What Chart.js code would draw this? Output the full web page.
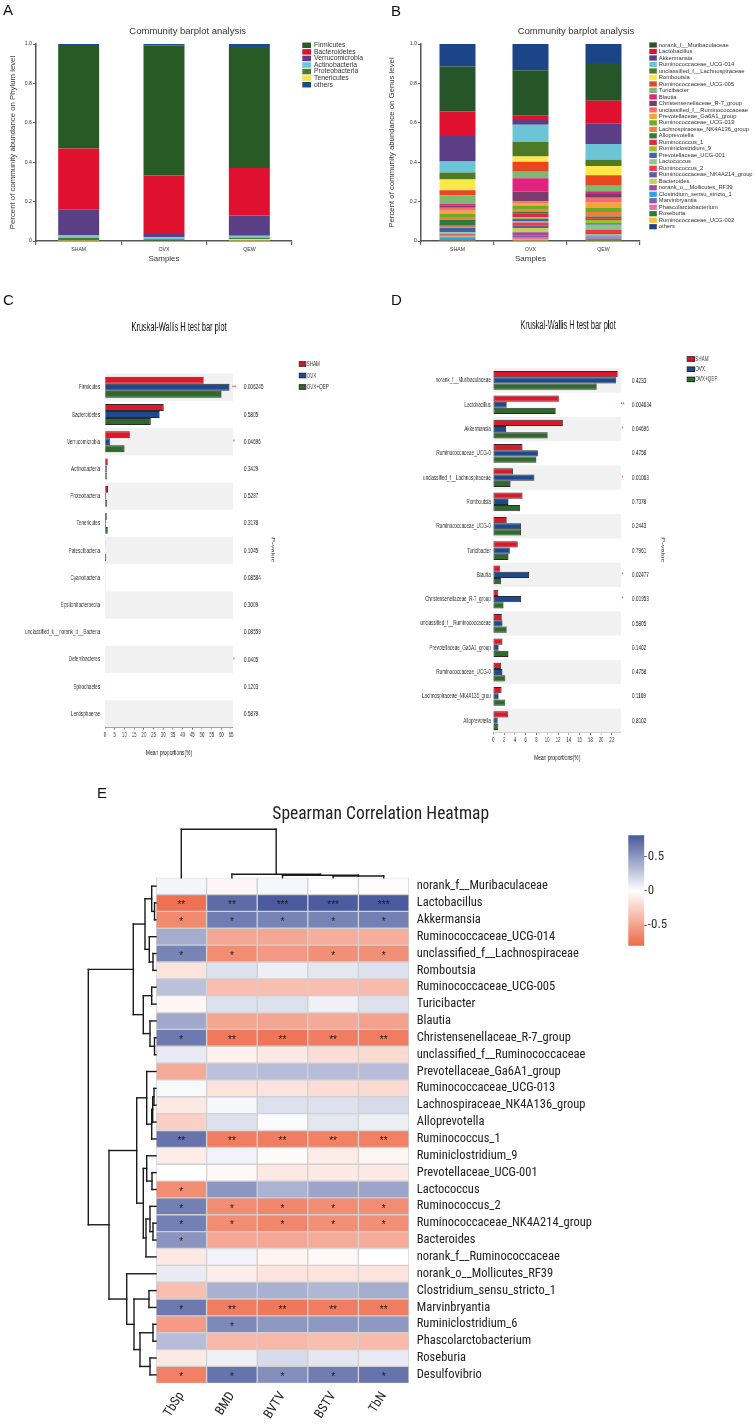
<!DOCTYPE html>
<html>
<head>
<meta charset="utf-8">
<script src="https://cdn.jsdelivr.net/npm/chart.js@4.4.1/dist/chart.umd.min.js"></script>
<style>
  body { margin: 0; background: #fff; }
  #page { position: relative; width: 755px; height: 1428px; overflow: hidden; background: #fff; }
  canvas { position: absolute; }
  .tag { position: absolute; font: 15px "Liberation Sans", Arial, sans-serif; color: #111; line-height: 15px; }
  .squeeze { transform: scaleX(0.62); transform-origin: 0 0; }
</style>
</head>
<body>
<div id="page">
  <canvas id="phylumChart" width="380" height="290" style="left:0;top:0"></canvas>
  <canvas id="genusChart" width="375" height="290" style="left:380px;top:0"></canvas>
  <canvas id="kwPhylum" class="squeeze" width="613" height="480" style="left:0;top:290px"></canvas>
  <canvas id="kwGenus" class="squeeze" width="605" height="480" style="left:380px;top:290px"></canvas>
  <canvas id="heatChart" width="755" height="668" style="left:0;top:760px"></canvas>
  <canvas id="colorBar" width="70" height="130" style="left:620px;top:825px"></canvas>
  <div class="tag" style="left:3px;top:2px">A</div>
  <div class="tag" style="left:391px;top:3px">B</div>
  <div class="tag" style="left:3px;top:292px">C</div>
  <div class="tag" style="left:391px;top:292px">D</div>
  <div class="tag" style="left:97px;top:785px">E</div>
</div>
<script>
const family = '"Liberation Sans", Arial, sans-serif';
const narrow = '"Liberation Sans Narrow", "Arial Narrow", "Roboto Condensed", sans-serif';
const SQ = 0.62; // horizontal squeeze of panels C and D
Chart.defaults.font.family = family;
Chart.defaults.color = '#333';

// ---- A: phylum community barplot
const samples = ['SHAM', 'OVX', 'QEW'];
const phylumNames = ['Firmicutes', 'Bacteroidetes', 'Verrucomicrobia', 'Actinobacteria', 'Proteobacteria', 'Tenericutes', 'others'];
const phylumColors = ['#285a25', '#e0112f', '#5a3e86', '#6fc6d6', '#4d7b29', '#f6e24c', '#1b4b8c'];
const phylumSham = [0.526, 0.310, 0.129, 0.013, 0.012, 0.005, 0.005];
const phylumOvx = [0.660, 0.292, 0.022, 0.010, 0.006, 0.003, 0.007];
const phylumQew = [0.614, 0.242, 0.102, 0.010, 0.007, 0.010, 0.015];

// ---- B: genus community barplot
const genusNames = ['norank_f__Muribaculaceae', 'Lactobacillus', 'Akkermansia', 'Ruminococcaceae_UCG-014',
  'unclassified_f__Lachnospiraceae', 'Romboutsia', 'Ruminococcaceae_UCG-005', 'Turicibacter', 'Blautia',
  'Christensenellaceae_R-7_group', 'unclassified_f__Ruminococcaceae', 'Prevotellaceae_Ga6A1_group',
  'Ruminococcaceae_UCG-013', 'Lachnospiraceae_NK4A136_group', 'Alloprevotella', 'Ruminococcus_1',
  'Ruminiclostridium_9', 'Prevotellaceae_UCG-001', 'Lactococcus', 'Ruminococcus_2',
  'Ruminococcaceae_NK4A214_group', 'Bacteroides', 'norank_o__Mollicutes_RF39', 'Clostridium_sensu_stricto_1',
  'Marvinbryantia', 'Phascolarctobacterium', 'Roseburia', 'Ruminococcaceae_UCG-002', 'others'];
const genusColors = ['#27552a', '#e0102f', '#5b3e86', '#6cc5d6', '#4e7a26', '#fde84a', '#e8461f', '#7cba72',
  '#e0237e', '#7b3c6c', '#f2706a', '#f9a531', '#6aab2a', '#f47c3c', '#2e7c3a', '#e3283e', '#9bc02c', '#3f65a8',
  '#8cc68a', '#ed3a48', '#5a5ea5', '#c3cf55', '#a5479a', '#2ba4e0', '#7e5fa8', '#ec6fa0', '#2f7a34', '#fbc02d',
  '#1b4586'];
const genusSham = [0.229, 0.124, 0.129, 0.056, 0.036, 0.054, 0.027, 0.042, 0.010, 0.010, 0.015, 0.015, 0.017,
  0.014, 0.029, 0.007, 0.005, 0.022, 0.008, 0.005, 0.005, 0.005, 0.003, 0.014, 0.002, 0.001, 0.001, 0.001, 0.114];
const genusOvx = [0.229, 0.024, 0.024, 0.086, 0.075, 0.027, 0.051, 0.032, 0.068, 0.049, 0.012, 0.012, 0.020,
  0.010, 0.007, 0.020, 0.008, 0.014, 0.005, 0.014, 0.014, 0.022, 0.014, 0.005, 0.008, 0.007, 0.003, 0.007, 0.134];
const genusQew = [0.192, 0.117, 0.102, 0.080, 0.032, 0.047, 0.054, 0.027, 0.014, 0.020, 0.025, 0.027, 0.020,
  0.022, 0.010, 0.008, 0.017, 0.007, 0.024, 0.019, 0.007, 0.005, 0.005, 0.007, 0.005, 0.002, 0.008, 0.001, 0.097];

// ---- C / D: Kruskal-Wallis
const groups = ['SHAM', 'OVX', 'OVX+QEP'];
const groupColors = ['#e0162b', '#1d4a8f', '#2e6a2c'];
const kwPhylumNames = ['Firmicutes', 'Bacteroidetes', 'Verrucomicrobia', 'Actinobacteria', 'Proteobacteria',
  'Tenericutes', 'Patescibacteria', 'Cyanobacteria', 'Epsilonbacteraeota', 'unclassified_k__norank_d__Bacteria',
  'Deferribacteres', 'Spirochaetes', 'Lentisphaerae'];
const kwPhylumSham = [50.9, 30.2, 12.7, 1.4, 1.5, 0.8, 0.3, 0.3, 0.2, 0.15, 0.15, 0.1, 0.1];
const kwPhylumOvx = [64.1, 28.2, 2.6, 1.0, 0.5, 0.5, 0.2, 0.3, 0.2, 0.15, 0.1, 0.1, 0.1];
const kwPhylumQep = [60.1, 23.5, 10.0, 1.0, 0.9, 1.4, 0.6, 0.3, 0.2, 0.15, 0.15, 0.1, 0.1];
const kwPhylumP = [0.006245, 0.5805, 0.04696, 0.3429, 0.5287, 0.3178, 0.1045, 0.08584, 0.3009, 0.08559, 0.0405, 0.1203, 0.5879];

const kwGenusNames = ['norank_f__Muribaculaceae', 'Lactobacillus', 'Akkermansia', 'Ruminococcaceae_UCG-0',
  'unclassified_f__Lachnospiraceae', 'Romboutsia', 'Ruminococcaceae_UCG-0', 'Turicibacter', 'Blautia',
  'Christensenellaceae_R-7_group', 'unclassified_f__Ruminococcaceae', 'Prevotellaceae_Ga6A1_group',
  'Ruminococcaceae_UCG-0', 'Lachnospiraceae_NK4A136_grou', 'Alloprevotella'];
const kwGenusSham = [23.1, 12.2, 12.9, 5.4, 3.6, 5.4, 2.5, 4.5, 1.2, 0.9, 1.6, 1.7, 1.4, 1.5, 2.7];
const kwGenusOvx = [22.8, 2.5, 2.35, 8.3, 7.6, 2.8, 5.1, 3.1, 6.6, 5.1, 1.7, 1.0, 1.7, 1.0, 0.8];
const kwGenusQep = [19.2, 11.6, 10.1, 8.0, 3.2, 5.0, 5.1, 2.8, 1.4, 1.9, 2.5, 2.8, 2.2, 2.2, 0.9];
const kwGenusP = [0.4233, 0.004634, 0.04696, 0.4758, 0.01063, 0.7378, 0.2443, 0.7961, 0.02477, 0.01953, 0.5805, 0.1402, 0.4758, 0.1169, 0.8102];

// ---- E: Spearman heatmap
const traits = ['TbSp', 'BMD', 'BVTV', 'BSTV', 'TbN'];
const taxa = ['norank_f__Muribaculaceae', 'Lactobacillus', 'Akkermansia', 'Ruminococcaceae_UCG-014',
  'unclassified_f__Lachnospiraceae', 'Romboutsia', 'Ruminococcaceae_UCG-005', 'Turicibacter', 'Blautia',
  'Christensenellaceae_R-7_group', 'unclassified_f__Ruminococcaceae', 'Prevotellaceae_Ga6A1_group',
  'Ruminococcaceae_UCG-013', 'Lachnospiraceae_NK4A136_group', 'Alloprevotella', 'Ruminococcus_1',
  'Ruminiclostridium_9', 'Prevotellaceae_UCG-001', 'Lactococcus', 'Ruminococcus_2',
  'Ruminococcaceae_NK4A214_group', 'Bacteroides', 'norank_f__Ruminococcaceae', 'norank_o__Mollicutes_RF39',
  'Clostridium_sensu_stricto_1', 'Marvinbryantia', 'Ruminiclostridium_6', 'Phascolarctobacterium',
  'Roseburia', 'Desulfovibrio'];
const corr = [
  [0.05, -0.05, 0.04, 0.0, -0.02],
  [-0.76, 0.72, 0.8, 0.79, 0.8],
  [-0.63, 0.63, 0.6, 0.6, 0.62],
  [0.4, -0.47, -0.47, -0.44, -0.44],
  [0.6, -0.62, -0.55, -0.6, -0.6],
  [-0.15, 0.15, 0.08, 0.12, 0.15],
  [0.3, -0.35, -0.35, -0.35, -0.37],
  [-0.05, 0.15, 0.15, 0.07, 0.15],
  [0.42, -0.48, -0.48, -0.46, -0.5],
  [0.65, -0.72, -0.74, -0.7, -0.7],
  [0.1, -0.08, -0.12, -0.18, -0.2],
  [-0.45, 0.3, 0.32, 0.32, 0.32],
  [0.03, -0.15, -0.15, -0.18, -0.2],
  [-0.12, 0.04, 0.15, 0.15, 0.18],
  [-0.25, 0.15, 0.02, 0.12, 0.08],
  [0.68, -0.7, -0.7, -0.68, -0.68],
  [-0.1, 0.06, -0.02, -0.1, -0.05],
  [0.0, -0.04, -0.12, -0.12, -0.12],
  [-0.62, 0.51, 0.37, 0.44, 0.44],
  [0.62, -0.62, -0.64, -0.62, -0.62],
  [0.62, -0.62, -0.64, -0.6, -0.6],
  [0.52, -0.47, -0.47, -0.45, -0.45],
  [-0.12, 0.06, -0.06, -0.03, 0.0],
  [0.1, -0.1, -0.15, -0.15, -0.15],
  [-0.35, 0.38, 0.38, 0.35, 0.4],
  [0.65, -0.7, -0.73, -0.7, -0.7],
  [-0.54, 0.57, 0.5, 0.5, 0.5],
  [0.32, -0.38, -0.38, -0.35, -0.37],
  [-0.12, 0.07, 0.18, 0.12, 0.1],
  [-0.68, 0.68, 0.55, 0.63, 0.68]
];
const corrStars = [
  ['', '', '', '', ''], ['**', '**', '***', '***', '***'], ['*', '*', '*', '*', '*'], ['', '', '', '', ''],
  ['*', '*', '', '*', '*'], ['', '', '', '', ''], ['', '', '', '', ''], ['', '', '', '', ''], ['', '', '', '', ''],
  ['*', '**', '**', '**', '**'], ['', '', '', '', ''], ['', '', '', '', ''], ['', '', '', '', ''], ['', '', '', '', ''],
  ['', '', '', '', ''], ['**', '**', '**', '**', '**'], ['', '', '', '', ''], ['', '', '', '', ''],
  ['*', '', '', '', ''], ['*', '*', '*', '*', '*'], ['*', '*', '*', '*', '*'], ['*', '', '', '', ''],
  ['', '', '', '', ''], ['', '', '', '', ''], ['', '', '', '', ''], ['*', '**', '**', '**', '**'],
  ['', '*', '', '', ''], ['', '', '', '', ''], ['', '', '', '', ''], ['*', '*', '*', '*', '*']
];
// hclust-style merges: negative = leaf (1-based), positive = earlier merge, then height
const rowMerges = [
  [-2, -3, 0.015], [-1, 1, 0.043], [-5, -6, 0.03], [-4, 3, 0.067], [2, 4, 0.11],
  [-7, -8, 0.043], [-10, -11, 0.015], [-9, 7, 0.06], [6, 8, 0.127], [5, 9, 0.227],
  [-13, -14, 0.02], [11, -15, 0.033], [12, -16, 0.043], [-12, 13, 0.093],
  [-18, -19, 0.04], [-17, 15, 0.093], [-21, -22, 0.03], [-20, 17, 0.06], [18, -23, 0.10],
  [16, 19, 0.127], [14, 20, 0.193],
  [-25, -26, 0.07], [-27, -28, 0.03], [-29, -30, 0.06], [23, 24, 0.16], [22, 25, 0.22],
  [-24, 26, 0.293], [21, 27, 0.47], [10, 28, 0.677]
];
const colMerges = [[-4, -5, 0.017], [-3, 1, 0.025], [-2, 2, 0.035], [-1, 3, 0.484]];
const treeScale = 100;
const corrLimit = 0.8;
const colorTicks = [-0.5, 0, 0.5];
const posEnd = [75, 90, 157];
const negEnd = [238, 106, 74];

function corrColor(v) {
  const t = Math.min(Math.abs(v) / corrLimit, 1);
  const end = v >= 0 ? posEnd : negEnd;
  const c = end.map(e => Math.round(255 + (e - 255) * t));
  return `rgb(${c[0]},${c[1]},${c[2]})`;
}

function stackOrder(n) {
  const idx = [];
  for (let k = n - 2; k >= 0; k--) idx.push(k);
  idx.push(n - 1);
  return idx;
}

function textPlugin(id, items) {
  return {
    id,
    afterDraw(chart) {
      const ctx = chart.ctx;
      items.forEach(t => {
        ctx.save();
        ctx.font = t.font;
        ctx.fillStyle = t.color || '#333';
        ctx.textAlign = t.align || 'center';
        ctx.textBaseline = 'middle';
        ctx.translate(t.x, t.y);
        if (t.rot) ctx.rotate(t.rot);
        ctx.fillText(t.text, 0, 0);
        ctx.restore();
      });
    }
  };
}

function swatchLegend(id, names, colors, g) {
  return {
    id,
    afterDraw(chart) {
      const ctx = chart.ctx;
      ctx.save();
      ctx.font = g.font;
      ctx.textBaseline = 'middle';
      ctx.textAlign = 'left';
      names.forEach((name, i) => {
        const cy = g.y + i * g.step;
        ctx.fillStyle = colors[i];
        ctx.fillRect(g.x, cy - g.h / 2, g.w, g.h);
        if (g.stroke) {
          ctx.strokeStyle = g.stroke;
          ctx.lineWidth = 1;
          ctx.strokeRect(g.x, cy - g.h / 2, g.w, g.h);
        }
        ctx.fillStyle = '#333';
        ctx.fillText(name, g.x + g.w + g.gap, cy);
      });
      ctx.restore();
    }
  };
}

function communityChart(id, names, colors, values, g) {
  return new Chart(document.getElementById(id), {
    type: 'bar',
    data: {
      labels: samples,
      datasets: stackOrder(names.length).map(k => ({
        label: names[k],
        data: values.map(v => v[k]),
        backgroundColor: colors[k],
        borderWidth: 0,
        categoryPercentage: 0.5,
        barPercentage: g.bar
      }))
    },
    options: {
      responsive: false,
      animation: false,
      layout: { padding: { left: 0, right: g.padRight, top: 44, bottom: 0 } },
      plugins: { legend: { display: false }, tooltip: { enabled: false } },
      scales: {
        x: {
          stacked: true,
          grid: { drawOnChartArea: false, tickLength: 4, color: '#666', lineWidth: 1.2 },
          border: { color: '#555', width: 1.5 },
          ticks: { font: { size: 5.2 }, color: '#333', padding: 1 },
          title: { display: true, text: 'Samples', font: { size: 8 }, color: '#333', padding: { top: 0, bottom: 26.9 } },
          afterFit: s => { s.height = 49; }
        },
        y: {
          stacked: true,
          min: 0,
          max: 1,
          grid: { drawOnChartArea: false, tickLength: 3, color: '#666' },
          border: { color: '#555', width: 1.5 },
          ticks: { stepSize: 0.2, font: { size: 5.2 }, color: '#333', padding: 1 },
          title: { display: true, text: g.yTitle, font: { size: 7.8 }, color: '#333', padding: { top: g.yTitlePad, bottom: 0 } },
          afterFit: s => { s.width = g.axisW; }
        }
      }
    },
    plugins: [
      textPlugin(id + 'Title', [{ text: 'Community barplot analysis', x: g.titleX, y: 31, font: '9.5px ' + family }]),
      swatchLegend(id + 'Legend', names, colors, g.legend)
    ]
  });
}

communityChart('phylumChart', phylumNames, phylumColors, [phylumSham, phylumOvx, phylumQew], {
  bar: 0.96, padRight: 88, axisW: 36, yTitlePad: 8.6, titleX: 187.7,
  yTitle: 'Percent of community abundance on Phylum level',
  legend: { x: 302.3, y: 45.3, step: 6.57, w: 8.7, h: 5.5, gap: 3, font: '6.8px ' + family }
});
communityChart('genusChart', genusNames, genusColors, [genusSham, genusOvx, genusQew], {
  bar: 0.986, padRight: 115, axisW: 41, yTitlePad: 7, titleX: 196,
  yTitle: 'Percent of community abundance on Genus level',
  legend: { x: 269.3, y: 45, step: 6.49, w: 7.5, h: 5.2, gap: 2, font: '5.8px ' + family }
});

function kwDecor(id, pvals, g) {
  return {
    id,
    beforeDatasetsDraw(chart) {
      const { ctx, chartArea, scales: { y } } = chart;
      const h = Math.abs(y.getPixelForValue(1) - y.getPixelForValue(0));
      ctx.save();
      ctx.fillStyle = '#f1f1f1';
      pvals.forEach((p, i) => {
        if (i % 2) return;
        const c = y.getPixelForValue(i);
        ctx.fillRect(chartArea.left, c - h / 2, chartArea.right - chartArea.left, h);
      });
      ctx.restore();
    },
    afterDraw(chart) {
      const { ctx, scales: { y } } = chart;
      ctx.save();
      ctx.textBaseline = 'middle';
      pvals.forEach((p, i) => {
        const c = y.getPixelForValue(i);
        ctx.font = '7.5px ' + family;
        ctx.fillStyle = '#222';
        ctx.textAlign = 'left';
        ctx.fillText(String(p), g.pX, c);
        const star = p < 0.01 ? '**' : p < 0.05 ? '*' : '';
        if (star) {
          ctx.font = '8px ' + family;
          ctx.fillStyle = '#e8303a';
          ctx.textAlign = 'center';
          ctx.fillText(star, g.starX, c);
        }
      });
      ctx.restore();
    }
  };
}

function kwChart(id, names, vals, pvals, g) {
  return new Chart(document.getElementById(id), {
    type: 'bar',
    data: {
      labels: names,
      datasets: groups.map((grp, i) => ({
        label: grp,
        data: vals[i],
        backgroundColor: groupColors[i],
        borderColor: '#2a2a2a',
        borderWidth: 1,
        borderSkipped: false,
        categoryPercentage: 0.77,
        barPercentage: 1
      }))
    },
    options: {
      indexAxis: 'y',
      responsive: false,
      animation: false,
      layout: { padding: { left: 0, right: g.padRight, top: g.top, bottom: 0 } },
      plugins: { legend: { display: false }, tooltip: { enabled: false } },
      scales: {
        x: {
          min: 0,
          max: g.max,
          grid: { drawOnChartArea: false, tickLength: 2, color: '#555' },
          border: { color: '#555', width: 1 },
          ticks: { stepSize: g.step, includeBounds: false, font: { size: 7 }, color: '#333', padding: 1.5 },
          title: { display: true, text: 'Mean proportions(%)', font: { size: 8 }, color: '#222', padding: { top: 0, bottom: g.titlePad } },
          afterFit: s => { s.height = g.axisH; }
        },
        y: {
          grid: { display: false, drawTicks: false },
          border: { display: false },
          ticks: { autoSkip: false, font: { size: 7.4 }, color: '#333', padding: g.labelPad },
          afterFit: s => { s.width = g.axisW; }
        }
      }
    },
    plugins: [
      kwDecor(id + 'Decor', pvals, g),
      textPlugin(id + 'Text', [
        { text: 'Kruskal-Wallis H test bar plot', x: g.titleX, y: g.titleY, font: '12px ' + family, color: '#111' },
        { text: 'P-value', x: g.pvalLabelX, y: 260, rot: Math.PI / 2, font: '7.5px ' + family, color: '#222' }
      ]),
      swatchLegend(id + 'Legend', groups, groupColors, g.legend)
    ]
  });
}

kwChart('kwPhylum', kwPhylumNames, [kwPhylumSham, kwPhylumOvx, kwPhylumQep], kwPhylumP, {
  padRight: 613 - 233 / SQ, top: 83.7, axisW: 105 / SQ, axisH: 42.5, titlePad: 12.7, labelPad: 8,
  max: 66, step: 5, titleX: 179 / SQ, titleY: 38, pvalLabelX: 273 / SQ, pX: 244 / SQ, starX: 234 / SQ,
  legend: { x: 299 / SQ, y: 74, step: 11.5, w: 11.3, h: 4.5, gap: 1, stroke: '#222', font: '7.4px ' + family }
});
kwChart('kwGenus', kwGenusNames, [kwGenusSham, kwGenusOvx, kwGenusQep], kwGenusP, {
  padRight: 605 - 241 / SQ, top: 78.3, axisW: 113.3 / SQ, axisH: 37.2, titlePad: 7.5, labelPad: 4,
  max: 23.7, step: 2, titleX: 188 / SQ, titleY: 36, pvalLabelX: 283 / SQ, pX: 252 / SQ, starX: 242.5 / SQ,
  legend: { x: 307 / SQ, y: 69, step: 10.2, w: 12.4, h: 4.5, gap: 1, stroke: '#222', font: '7.4px ' + family }
});

function drawTree(ctx, merges, leafAt, depthAt, vertical) {
  const nodes = [];
  const get = m => (m < 0 ? { c: leafAt(-m - 1), h: 0 } : nodes[m - 1]);
  const seg = (c1, d1, c2, d2) => {
    ctx.beginPath();
    if (vertical) { ctx.moveTo(c1, d1); ctx.lineTo(c2, d2); }
    else { ctx.moveTo(d1, c1); ctx.lineTo(d2, c2); }
    ctx.stroke();
  };
  merges.forEach(([a, b, h]) => {
    const p = get(a), q = get(b);
    const d = depthAt(h);
    seg(p.c, depthAt(p.h), p.c, d);
    seg(q.c, depthAt(q.h), q.c, d);
    seg(p.c, d, q.c, d);
    nodes.push({ c: (p.c + q.c) / 2, h });
  });
}

const heatDecor = {
  id: 'heatDecor',
  afterDatasetsDraw(chart) {
    const { ctx, scales: { x, y } } = chart;
    ctx.save();
    ctx.font = '10px ' + family;
    ctx.fillStyle = '#1a1a1a';
    ctx.textAlign = 'center';
    ctx.textBaseline = 'middle';
    corrStars.forEach((row, i) => row.forEach((s, j) => {
      if (s) ctx.fillText(s, x.getPixelForValue(j + 0.5), y.getPixelForValue(i) + 2.5);
    }));
    ctx.restore();
  },
  afterDraw(chart) {
    const { ctx, chartArea, scales: { x, y } } = chart;
    ctx.save();
    ctx.strokeStyle = '#1a1a1a';
    ctx.lineWidth = 1.4;
    ctx.lineCap = 'square';
    drawTree(ctx, rowMerges, i => y.getPixelForValue(i), h => chartArea.left - h * treeScale, false);
    drawTree(ctx, colMerges, j => x.getPixelForValue(j + 0.5), h => chartArea.top - h * treeScale, true);
    ctx.restore();
  }
};

new Chart(document.getElementById('heatChart'), {
  type: 'bar',
  data: {
    labels: taxa,
    datasets: traits.map((t, j) => ({
      label: t,
      data: taxa.map(() => [j, j + 1]),
      backgroundColor: taxa.map((_, i) => corrColor(corr[i][j])),
      borderColor: '#d0d0d0',
      borderWidth: 1,
      borderSkipped: false,
      barPercentage: 1,
      categoryPercentage: 1,
      grouped: false
    }))
  },
  options: {
    indexAxis: 'y',
    responsive: false,
    animation: false,
    layout: { padding: { left: 156, right: 0, top: 117.7, bottom: 0 } },
    plugins: { legend: { display: false }, tooltip: { enabled: false } },
    scales: {
      x: {
        type: 'linear',
        min: 0,
        max: traits.length,
        afterBuildTicks: s => { s.ticks = traits.map((_, j) => ({ value: j + 0.5 })); },
        grid: { display: false, drawTicks: false },
        border: { display: false },
        ticks: { autoSkip: false, minRotation: 58, maxRotation: 58, callback: (v, i) => traits[i], font: { size: 13, family: narrow }, color: '#222', padding: 6 },
        afterFit: s => { s.height = 668 - 623.3; }
      },
      y: {
        position: 'right',
        grid: { display: false, drawTicks: false },
        border: { display: false },
        ticks: { autoSkip: false, font: { size: 12.5, family: narrow }, color: '#222', padding: 7.7 },
        afterFit: s => { s.width = 755 - 409; }
      }
    }
  },
  plugins: [
    heatDecor,
    textPlugin('heatTitle', [{ text: 'Spearman Correlation Heatmap', x: 380.7, y: 55, font: '17.5px ' + narrow, color: '#222' }])
  ]
});

function barGradient(chart) {
  const { ctx, chartArea, scales } = chart;
  if (!chartArea || !scales.y) return corrColor(0);
  const y = scales.y;
  const g = ctx.createLinearGradient(0, y.getPixelForValue(-corrLimit), 0, y.getPixelForValue(corrLimit));
  g.addColorStop(0, corrColor(-corrLimit));
  g.addColorStop(0.5, corrColor(0));
  g.addColorStop(1, corrColor(corrLimit));
  return g;
}

new Chart(document.getElementById('colorBar'), {
  type: 'bar',
  data: {
    labels: ['rho'],
    datasets: [{
      data: [[-corrLimit, 0.81]],
      backgroundColor: c => barGradient(c.chart),
      borderWidth: 0,
      barPercentage: 1,
      categoryPercentage: 1
    }]
  },
  options: {
    responsive: false,
    animation: false,
    layout: { padding: { left: 8.3, right: 0, top: 10.3, bottom: 9.3 } },
    plugins: { legend: { display: false }, tooltip: { enabled: false } },
    scales: {
      x: { display: false },
      y: {
        position: 'right',
        min: -corrLimit,
        max: 0.81,
        afterBuildTicks: s => { s.ticks = colorTicks.map(v => ({ value: v })); },
        grid: { drawOnChartArea: false, tickLength: 2.5, color: '#666' },
        border: { display: false },
        ticks: { font: { size: 13, family: narrow }, color: '#333', padding: 1, callback: v => String(v) },
        afterFit: s => { s.width = 45.7; }
      }
    }
  }
});
</script>
</body>
</html>
